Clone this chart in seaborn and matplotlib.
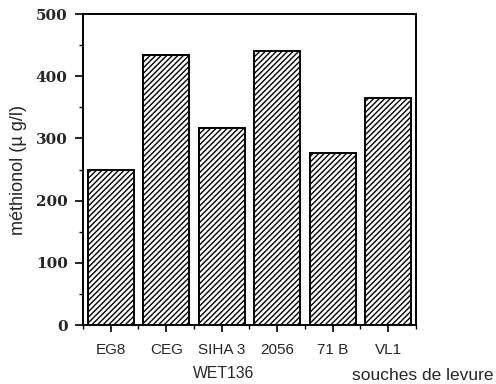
import matplotlib
matplotlib.use("Agg")
import matplotlib.pyplot as plt
import seaborn as sns
import numpy as np
import pandas as pd
from matplotlib.ticker import MultipleLocator, FixedLocator

# Methionol produced by each yeast strain
strains = ["EG8", "CEG", "SIHA 3", "2056", "71 B", "VL1"]
methionol = [250, 434, 317, 440, 276, 365]
y_ticks = [0, 100, 200, 300, 400, 500]

sns.set_theme(style="white")
plt.rcParams["font.family"] = ["Liberation Sans", "DejaVu Sans"]
plt.rcParams["hatch.linewidth"] = 1.0
plt.rcParams["hatch.color"] = "black"

df = pd.DataFrame({"souche": strains, "methionol": methionol})

fig = plt.figure(figsize=(4.96, 3.84), dpi=100)
ax = fig.add_axes([0.1673, 0.1536, 0.8387 - 0.1673, 0.9635 - 0.1536])

sns.barplot(data=df, x="souche", y="methionol", ax=ax, color="white",
            edgecolor="black", linewidth=1.4, width=0.83, hatch="//////",
            saturation=1)

ax.set_xlim(-0.5, len(strains) - 0.5)
ax.set_ylim(0, 500)

for s in ax.spines.values():
    s.set_visible(True)
    s.set_color("black")
    s.set_linewidth(1.4)

ax.yaxis.set_major_locator(FixedLocator(y_ticks))
ax.yaxis.set_minor_locator(MultipleLocator(50))
ax.set_yticklabels([str(v) for v in y_ticks], family="DejaVu Serif",
                   fontweight="bold", fontsize=11)
ax.xaxis.set_minor_locator(FixedLocator(np.arange(-0.5, len(strains), 1.0)))
ax.set_xticks(range(len(strains)))
ax.set_xticklabels(strains, fontsize=11)

ax.tick_params(axis="y", which="major", direction="out", length=6, width=1.2,
               left=True, right=False, pad=5, color="black")
ax.tick_params(axis="y", which="minor", direction="out", length=3, width=1.0,
               left=True, right=False, color="black")
ax.tick_params(axis="x", which="major", direction="out", length=5, width=1.2,
               bottom=True, top=False, pad=8, color="black")
ax.tick_params(axis="x", which="minor", direction="out", length=3, width=1.0,
               bottom=True, top=False, color="black")

ax.set_xlabel("")
ax.set_ylabel("méthionol (µ g/l)", fontsize=13, labelpad=6)

fig.text(223.5 / 496, 1 - 373 / 384, "WET136", ha="center", va="center", fontsize=11.3)
fig.text(423 / 496, 1 - 375 / 384, "souches de levure", ha="center", va="center",
         fontsize=12.5)

fig.savefig("out.png", dpi=100)
